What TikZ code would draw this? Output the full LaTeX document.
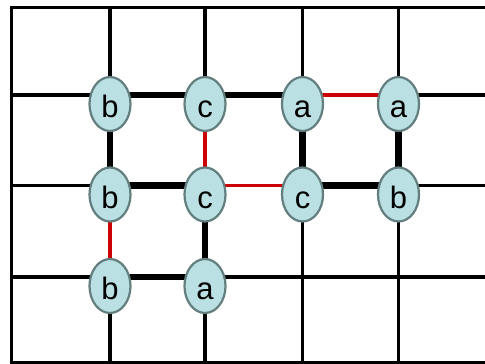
\documentclass[tikz,border=0pt]{standalone}
\usepackage{fontspec}
\setmainfont{Liberation Sans}
\usetikzlibrary{shapes.geometric}
\pgfdeclarelayer{bg}
\pgfsetlayers{bg,main}
\definecolor{nodefill}{RGB}{187,224,227}
\definecolor{nodeline}{RGB}{98,126,126}
\definecolor{redline}{RGB}{204,0,0}
\tikzset{
  gridline/.style={line width=3.2pt, black},
  strong/.style={line width=6.5pt, black},
  weak/.style={line width=3.5pt, redline},
  vtx/.style={ellipse, draw=nodeline, fill=nodefill, line width=2.2pt,
    minimum width=41pt, minimum height=54pt, inner sep=0pt,
    text height=27pt, text depth=0pt,
    font=\fontsize{31}{31}\selectfont, yshift=-9pt},
}
\begin{document}
\begin{tikzpicture}[x=1pt,y=-1pt]
\useasboundingbox (0,0) rectangle (485,364);
% nodes
\node[vtx] (b1) at (110,95) {b};
\node[vtx] (c1) at (205,95) {c};
\node[vtx] (a1) at (302.5,95) {a};
\node[vtx] (a2) at (398.5,95) {a};
\node[vtx] (b2) at (110,185.5) {b};
\node[vtx] (c2) at (205,185.5) {c};
\node[vtx] (c3) at (302.5,185.5) {c};
\node[vtx] (b3) at (398.5,185.5) {b};
\node[vtx] (b4) at (110,277) {b};
\node[vtx] (a4) at (205,277) {a};
\begin{pgfonlayer}{bg}
% grid
\begin{scope}
\clip (0,0) rectangle (485,364);
\foreach \x in {110,205,302.5,398.5} \draw[gridline] (\x,7.5) -- (\x,363);
\foreach \y in {95,185.5,277} \draw[gridline] (11.5,\y) -- (500,\y);
\draw[gridline] (500,7.5) -- (11.5,7.5) -- (11.5,363) -- (500,363);
\end{scope}
% edges
\draw[strong] ([yshift=9pt]b1.center) -- ([yshift=9pt]c1.center);
\draw[strong] ([yshift=9pt]c1.center) -- ([yshift=9pt]a1.center);
\draw[strong] ([yshift=9pt]b1.center) -- ([yshift=9pt]b2.center);
\draw[strong] ([yshift=9pt]a1.center) -- ([yshift=9pt]c3.center);
\draw[strong] ([yshift=9pt]a2.center) -- ([yshift=9pt]b3.center);
\draw[strong] ([yshift=9pt]b2.center) -- ([yshift=9pt]c2.center);
\draw[strong] ([yshift=9pt]c3.center) -- ([yshift=9pt]b3.center);
\draw[strong] ([yshift=9pt]c2.center) -- ([yshift=9pt]a4.center);
\draw[strong] ([yshift=9pt]b4.center) -- ([yshift=9pt]a4.center);
\draw[weak] ([yshift=9pt]a1.center) -- ([yshift=9pt]a2.center);
\draw[weak] ([yshift=9pt]c1.center) -- ([yshift=9pt]c2.center);
\draw[weak] ([yshift=9pt]c2.center) -- ([yshift=9pt]c3.center);
\draw[weak] ([yshift=9pt]b2.center) -- ([yshift=9pt]b4.center);
\end{pgfonlayer}
\end{tikzpicture}
\end{document}
